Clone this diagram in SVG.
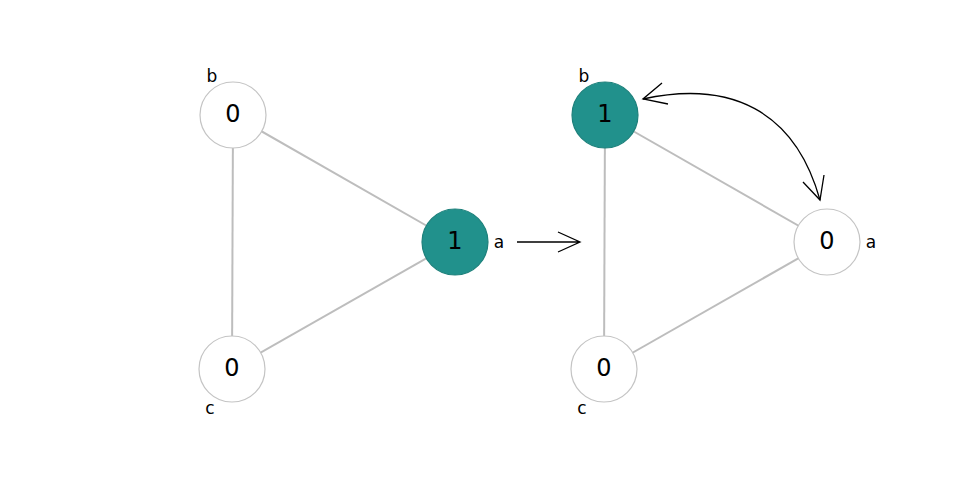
<svg xmlns="http://www.w3.org/2000/svg" width="960" height="480" viewBox="0 0 960 480">
<style>
.edge{stroke:#bdbdbd;stroke-width:2;fill:none}
.node{fill:#ffffff;stroke:#c4c4c4;stroke-width:1.2}
.on{fill:#21918c;stroke:#1d807b;stroke-width:1.2}
.num{font-family:"DejaVu Sans",sans-serif;font-size:24px;text-anchor:middle;dominant-baseline:central;fill:#000}
.lab{font-family:"DejaVu Sans",sans-serif;font-size:17px;text-anchor:middle;dominant-baseline:central;fill:#000}
.arr{stroke:#000;stroke-width:1.3;fill:none}
</style>
<rect width="960" height="480" fill="#fff"/>
<g id="connectors">
<line class="edge" x1="233" y1="115" x2="455" y2="242"/>
<line class="edge" x1="233" y1="115" x2="232" y2="369"/>
<line class="edge" x1="455" y1="242" x2="232" y2="369"/>
<line class="edge" x1="605" y1="115" x2="827" y2="242"/>
<line class="edge" x1="605" y1="115" x2="604" y2="369"/>
<line class="edge" x1="827" y1="242" x2="604" y2="369"/>
<path class="arr" d="M517,242 L580,242 M558,232 L580,242 L558,252"/>
<path class="arr" d="M643,99 C730,80 795,110 820,200"/>
<path class="arr" d="M662,83 L643,99 L668,104"/>
<path class="arr" d="M803,182 L820,200 L824,175"/>
</g>
<g id="L_b"><circle class="node" cx="233" cy="115" r="33"/><text class="num" x="233" y="114">0</text><text class="lab" x="212" y="76">b</text></g>
<g id="L_a"><circle class="on" cx="455" cy="242" r="33"/><text class="num" x="455" y="241">1</text><text class="lab" x="499" y="242">a</text></g>
<g id="L_c"><circle class="node" cx="232" cy="369" r="33"/><text class="num" x="232" y="368">0</text><text class="lab" x="210" y="408">c</text></g>
<g id="R_b"><circle class="on" cx="605" cy="115" r="33"/><text class="num" x="605" y="114">1</text><text class="lab" x="584" y="76">b</text></g>
<g id="R_a"><circle class="node" cx="827" cy="242" r="33"/><text class="num" x="827" y="241">0</text><text class="lab" x="871" y="242">a</text></g>
<g id="R_c"><circle class="node" cx="604" cy="369" r="33"/><text class="num" x="604" y="368">0</text><text class="lab" x="582" y="408">c</text></g>
</svg>
